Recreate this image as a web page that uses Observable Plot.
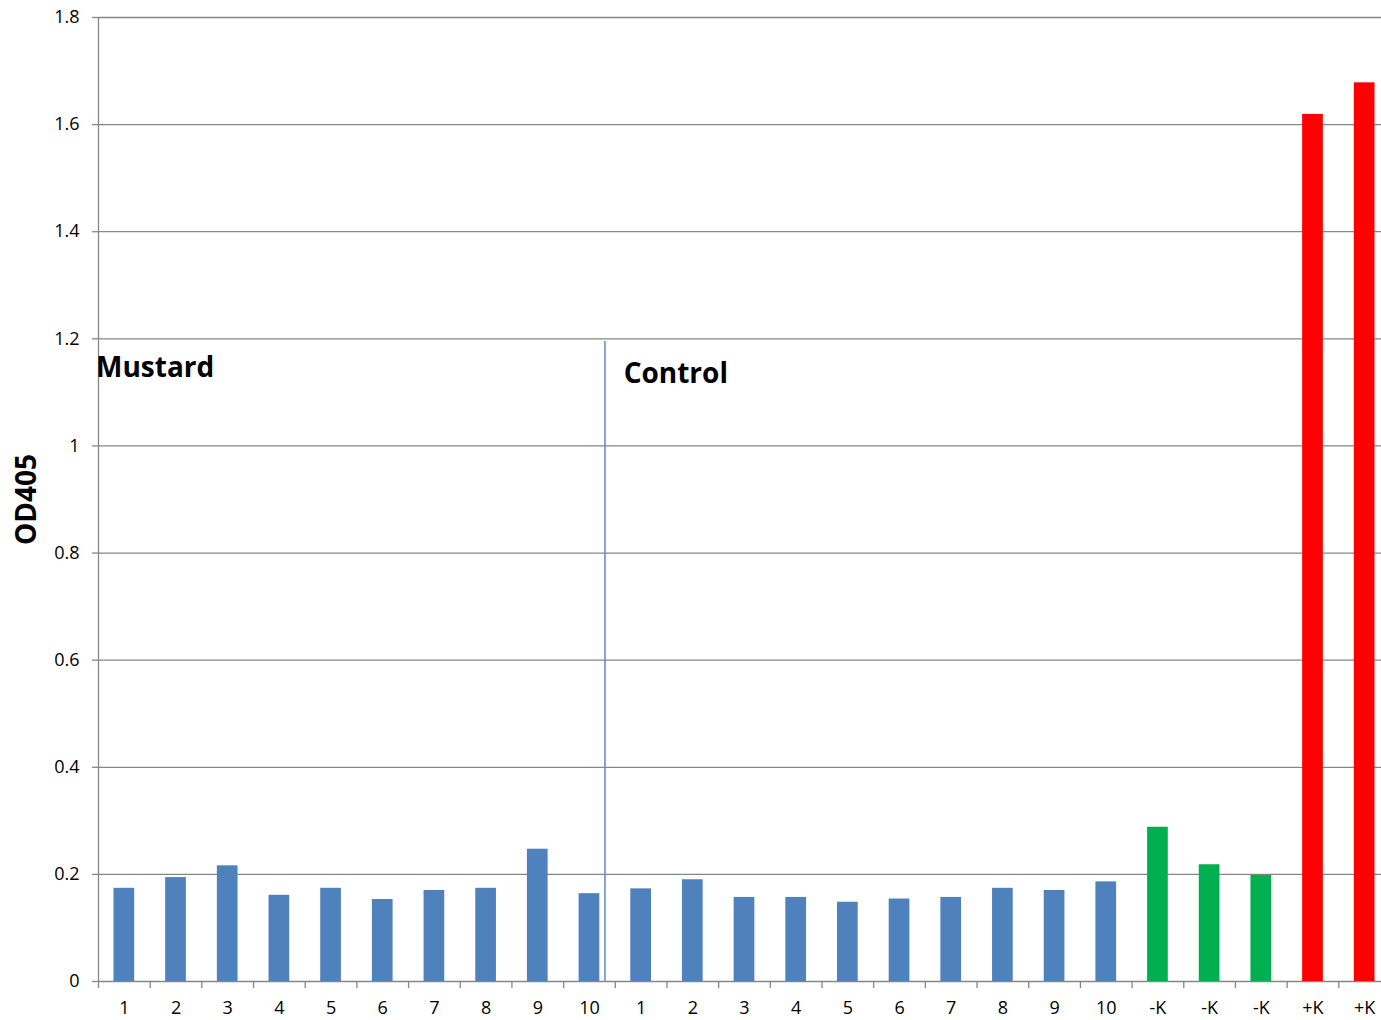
<!DOCTYPE html>
<html>
<head>
<meta charset="utf-8">
<script src="https://cdn.jsdelivr.net/npm/d3@7"></script>
<script src="https://cdn.jsdelivr.net/npm/@observablehq/plot@0.6"></script>
<style>
  html, body { margin: 0; padding: 0; background: #fff; overflow: hidden; }
  #chart svg { display: block; }
</style>
</head>
<body>
<div id="chart"></div>
<script>
// Data
const ids = ["m1","m2","m3","m4","m5","m6","m7","m8","m9","m10",
             "c1","c2","c3","c4","c5","c6","c7","c8","c9","c10",
             "n1","n2","n3","p1","p2"];
const labels = ["1","2","3","4","5","6","7","8","9","10",
                "1","2","3","4","5","6","7","8","9","10",
                "-K","-K","-K","+K","+K"];
const groups = ["Mustard","Mustard","Mustard","Mustard","Mustard","Mustard","Mustard","Mustard","Mustard","Mustard",
                "Control","Control","Control","Control","Control","Control","Control","Control","Control","Control",
                "Negative","Negative","Negative","Positive","Positive"];
const values = [0.174, 0.194, 0.216, 0.161, 0.174, 0.153, 0.170, 0.174, 0.247, 0.164,
                0.173, 0.190, 0.157, 0.157, 0.148, 0.154, 0.157, 0.174, 0.170, 0.186,
                0.288, 0.218, 0.198, 1.619, 1.678];
const groupNames = ["Mustard","Control","Negative","Positive"];
const groupColors = ["#4F81BD","#4F81BD","#00B050","#FF0000"];
const yTicks = [0, 0.2, 0.4, 0.6, 0.8, 1, 1.2, 1.4, 1.6, 1.8];
const mustardNote = {label: "Mustard", id: "m1", y: 1.128};
const controlNote = {label: "Control", id: "c1", y: 1.117};
const separator = {id: "m10", top: 1.195};

const data = ids.map((id, i) => ({id, label: labels[i], group: groups[i], value: values[i]}));
const labelOf = new Map(ids.map((id, i) => [id, labels[i]]));

const width = 1381, height = 1020;
const marginLeft = 98, marginRight = 0, marginTop = 17, marginBottom = 39;
const xRight = 1390; // the category axis runs slightly past the picture's right edge
const step = (xRight - marginLeft) / ids.length;
const barW = 20.7;
const inset = (step - barW) / 2;
const font = "'Open Sans', 'DejaVu Sans', sans-serif";
const gray = "#868686";
const fmtX = d => labelOf.get(d);
const fmtY = d => d === 0 ? "0" : String(d);
const noteStyle = {x: "id", y: "y", text: "label", textAnchor: "start", lineAnchor: "bottom",
                   fontWeight: "bold", fontSize: 28, fill: "#000"};

const chart = Plot.plot({
  width, height, marginLeft, marginRight, marginTop, marginBottom,
  style: {fontFamily: font, fontSize: "18px", color: "#000", background: "#fff"},
  x: {domain: ids, paddingInner: 0, paddingOuter: 0, round: false, range: [marginLeft, xRight], tickFormat: fmtX},
  y: {domain: [0, 1.8], ticks: yTicks, tickFormat: fmtY},
  color: {domain: groupNames, range: groupColors},
  marks: [
    Plot.gridY(yTicks, {stroke: gray, strokeOpacity: 1, strokeWidth: 1.3}),
    Plot.axisY({ticks: yTicks, tickSize: 6, tickPadding: 13, stroke: gray, strokeWidth: 1.3, label: null,
                tickFormat: fmtY, fontSize: 18}),
    // y-axis line
    Plot.ruleX([ids[0]], {x: d => d, dx: -step / 2, y1: 0, y2: 1.8, stroke: gray, strokeWidth: 1.3}),
    // x tick marks at band boundaries
    Plot.axisX({tickSize: 7, text: null, dx: -step / 2, stroke: gray, strokeWidth: 1.3, label: null}),
    Plot.axisX({tickSize: 0, tickPadding: 20, label: null, fontSize: 18, tickFormat: fmtX}),
    Plot.barY(data, {x: "id", y: "value", fill: "group", insetLeft: inset, insetRight: inset}),
    Plot.ruleX([separator], {x: "id", dx: 15.5, y1: 0, y2: "top", stroke: "#6A8FC6", strokeWidth: 1.6}),
    Plot.text([mustardNote], {...noteStyle, dx: -step / 2 - 2.5}),
    Plot.text([controlNote], {...noteStyle, dx: -17.5}),
    Plot.text(["OD405"], {frameAnchor: "left", y: [0.9], text: d => d, dx: -71, rotate: -90,
      textAnchor: "middle", fontWeight: "bold", fontSize: 28, fill: "#000"})
  ]
});
document.getElementById("chart").appendChild(chart);
</script>
</body>
</html>
